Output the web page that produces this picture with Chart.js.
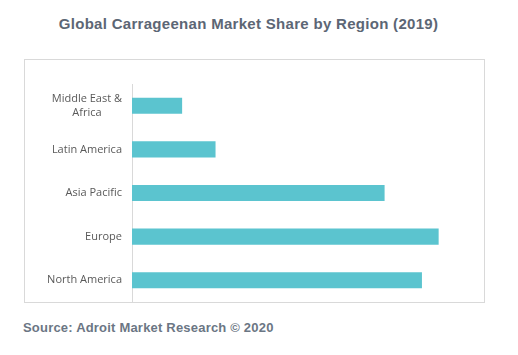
<!DOCTYPE html>
<html><head><meta charset="utf-8">
<script src="https://cdn.jsdelivr.net/npm/chart.js@4/dist/chart.umd.min.js"></script>
<style>
html,body{margin:0;padding:0;background:#fff;width:518px;height:355px;overflow:hidden;}
#title{position:absolute;left:0;top:15px;width:497px;text-align:center;font:bold 15px "Liberation Sans",Arial,sans-serif;color:#5c6675;letter-spacing:0.3px;}
#frame{position:absolute;left:24px;top:59px;width:459px;height:242px;border:1px solid #d9d9d9;}
#src{position:absolute;left:23px;top:320px;font:bold 13px "Liberation Sans",Arial,sans-serif;color:#6b7684;letter-spacing:0.2px;}
canvas{display:block;}
</style></head>
<body>
<div id="title">Global Carrageenan Market Share by Region (2019)</div>
<div id="frame"><canvas id="c" width="459" height="242"></canvas></div>
<div id="src">Source: Adroit Market Research © 2020</div>
<script>
const categories = [['Middle East &', 'Africa'], 'Latin America', 'Asia Pacific', 'Europe', 'North America'];
const shares = [5.1, 8.5, 25.7, 31.2, 29.5];

const LABEL_FONT = '11px "Open Sans"';
const centeredLabels = {
  id: 'centeredLabels',
  afterDraw(chart) {
    const ctx = chart.ctx, y = chart.scales.y;
    const right = y.right - 10;
    ctx.save();
    ctx.font = LABEL_FONT;
    ctx.fillStyle = '#595959';
    ctx.textAlign = 'center';
    ctx.textBaseline = 'middle';
    const lh = 14;
    chart.data.labels.forEach((lab, i) => {
      const lines = Array.isArray(lab) ? lab : [lab];
      const w = Math.max(...lines.map(l => ctx.measureText(l).width));
      const cx = right - w / 2;
      const cy = y.getPixelForTick(i);
      lines.forEach((l, k) => {
        ctx.fillText(l, cx, cy + (k - (lines.length - 1) / 2) * lh);
      });
    });
    ctx.restore();
  }
};

new Chart(document.getElementById('c'), {
  type: 'bar',
  data: {
    labels: categories,
    datasets: [{ data: shares, backgroundColor: '#5bc4cf', borderWidth: 0, barPercentage: 0.37, categoryPercentage: 1 }]
  },
  options: {
    indexAxis: 'y',
    responsive: false,
    animation: false,
    layout: { padding: { top: 24, right: 8, bottom: 0, left: 0 } },
    plugins: { legend: { display: false }, tooltip: { enabled: false } },
    scales: {
      x: { display: false, min: 0, max: 35 },
      y: {
        afterFit: s => { s.width = 107; s.paddingTop = 0; s.paddingBottom = 0; },
        grid: { display: false, drawTicks: false },
        border: { display: true, color: '#d9d9d9', width: 1 },
        ticks: { display: false }
      }
    }
  },
  plugins: [centeredLabels]
});
</script>
</body></html>
